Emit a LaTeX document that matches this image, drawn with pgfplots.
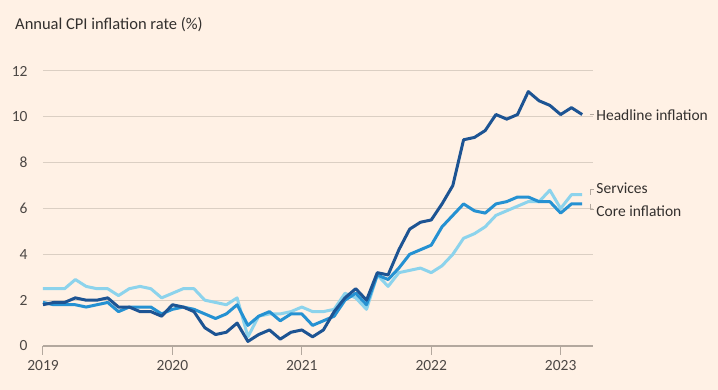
\documentclass[border=0pt]{standalone}
\usepackage{pgfplots}
\pgfplotsset{compat=1.18}
\usepackage{fontspec}
\setmainfont{Carlito}
\definecolor{bg}{HTML}{FFF1E5}
\definecolor{gridc}{HTML}{DBCFC3}
\definecolor{base}{HTML}{B3A89E}
\definecolor{txt}{HTML}{33302E}
\definecolor{tick}{HTML}{4D4845}
\definecolor{head}{HTML}{1D5493}
\definecolor{core}{HTML}{2591D2}
\definecolor{serv}{HTML}{8CD3EC}
\begin{document}
\begin{tikzpicture}[x=1pt,y=1pt]
\fill[bg] (-43,-44) rectangle (675,346);
\path[use as bounding box] (-43,-44) rectangle (675,346);
\node[anchor=west, text=txt, font=\fontsize{16.5}{19}\selectfont, inner sep=0pt] at (-28,321) {Annual CPI inflation rate (\%)};
\begin{axis}[
  at={(0,0)}, anchor=south west,
  scale only axis, width=550pt, height=275pt,
  xmin=0, xmax=51, ymin=0, ymax=12,
  axis line style={draw=none},
  ymajorgrids, grid style={gridc, line width=1pt},
  ytick={0,2,4,6,8,10,12},
  ytick style={draw=none},
  xtick={0,12,24,36,48},
  xticklabels={2019,2020,2021,2022,2023},
  xtick pos=bottom,
  tick align=outside,
  xtick style={base, line width=1pt},
  major tick length=9pt,
  ticklabel style={font=\fontsize{15.5}{17}\selectfont, text=tick},
  yticklabel style={xshift=-3pt},
  xticklabel style={yshift=-2pt},
  /pgf/number format/assume math mode=true,
  clip=false,
  line join=round,
]
\draw[base, line width=1.4pt] (axis cs:0,0) -- (axis cs:51,0);
\addplot[serv, line width=3pt] coordinates {
(0,2.5)(1,2.5)(2,2.5)(3,2.9)(4,2.6)(5,2.5)(6,2.5)(7,2.2)(8,2.5)(9,2.6)(10,2.5)(11,2.1)
(12,2.3)(13,2.5)(14,2.5)(15,2.0)(16,1.9)(17,1.8)(18,2.1)(19,0.4)(20,1.3)(21,1.4)(22,1.4)(23,1.5)
(24,1.7)(25,1.5)(26,1.5)(27,1.6)(28,2.3)(29,2.1)(30,1.6)(31,3.1)(32,2.6)(33,3.2)(34,3.3)(35,3.4)
(36,3.2)(37,3.5)(38,4.0)(39,4.7)(40,4.9)(41,5.2)(42,5.7)(43,5.9)(44,6.1)(45,6.3)(46,6.3)(47,6.8)
(48,6.0)(49,6.6)(50,6.6)};
\addplot[core, line width=3pt] coordinates {
(0,1.9)(1,1.8)(2,1.8)(3,1.8)(4,1.7)(5,1.8)(6,1.9)(7,1.5)(8,1.7)(9,1.7)(10,1.7)(11,1.4)
(12,1.6)(13,1.7)(14,1.6)(15,1.4)(16,1.2)(17,1.4)(18,1.8)(19,0.9)(20,1.3)(21,1.5)(22,1.1)(23,1.4)
(24,1.4)(25,0.9)(26,1.1)(27,1.3)(28,2.0)(29,2.3)(30,1.8)(31,3.1)(32,2.9)(33,3.4)(34,4.0)(35,4.2)
(36,4.4)(37,5.2)(38,5.7)(39,6.2)(40,5.9)(41,5.8)(42,6.2)(43,6.3)(44,6.5)(45,6.5)(46,6.3)(47,6.3)
(48,5.8)(49,6.2)(50,6.2)};
\addplot[head, line width=3pt] coordinates {
(0,1.8)(1,1.9)(2,1.9)(3,2.1)(4,2.0)(5,2.0)(6,2.1)(7,1.7)(8,1.7)(9,1.5)(10,1.5)(11,1.3)
(12,1.8)(13,1.7)(14,1.5)(15,0.8)(16,0.5)(17,0.6)(18,1.0)(19,0.2)(20,0.5)(21,0.7)(22,0.3)(23,0.6)
(24,0.7)(25,0.4)(26,0.7)(27,1.5)(28,2.1)(29,2.5)(30,2.0)(31,3.2)(32,3.1)(33,4.2)(34,5.1)(35,5.4)
(36,5.5)(37,6.2)(38,7.0)(39,9.0)(40,9.1)(41,9.4)(42,10.1)(43,9.9)(44,10.1)(45,11.1)(46,10.7)(47,10.5)
(48,10.1)(49,10.4)(50,10.1)};
\draw[base, line width=0.8pt] (axis cs:50.7,10.1) -- (axis cs:51.1,10.1);
\draw[base, line width=0.8pt] (axis cs:50.8,6.6) -- (axis cs:50.8,6.85) -- (axis cs:51.1,6.85);
\draw[base, line width=0.8pt] (axis cs:50.8,6.2) -- (axis cs:50.8,5.95) -- (axis cs:51.1,5.95);
\node[anchor=west, inner sep=0pt, text=txt, font=\fontsize{15.5}{17}\selectfont] at (axis cs:51.3,10.08) {Headline inflation};
\node[anchor=west, inner sep=0pt, text=txt, font=\fontsize{15.5}{17}\selectfont] at (axis cs:51.3,6.88) {Services};
\node[anchor=west, inner sep=0pt, text=txt, font=\fontsize{15.5}{17}\selectfont] at (axis cs:51.3,5.88) {Core inflation};
\end{axis}
\end{tikzpicture}
\end{document}
